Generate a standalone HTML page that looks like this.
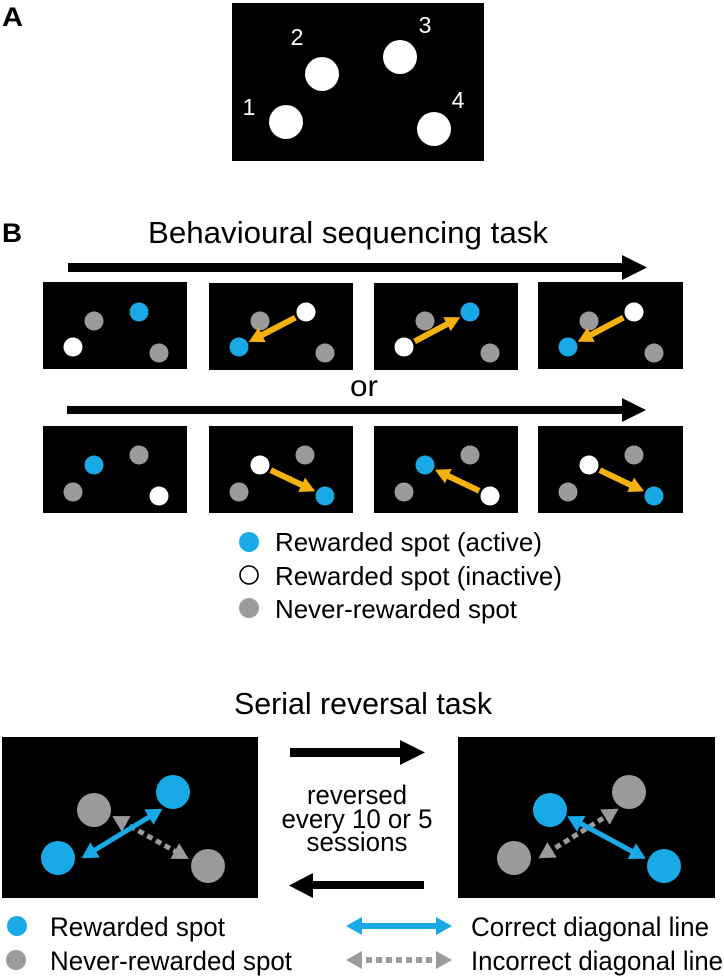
<!DOCTYPE html>
<html><head><meta charset="utf-8"><style>
html,body{margin:0;padding:0;background:#fff;}
svg{display:block;}
text{font-family:"Liberation Sans",Arial,sans-serif;}
</style></head><body>
<svg width="724" height="977" viewBox="0 0 724 977" xmlns="http://www.w3.org/2000/svg">
<defs>
<marker id="oh" markerUnits="userSpaceOnUse" markerWidth="16" markerHeight="16" refX="5" refY="8" orient="auto"><path d="M0,0 L15,8 L0,16 z" fill="#f5b20f"/></marker>
<marker id="bh" markerUnits="userSpaceOnUse" markerWidth="18" markerHeight="18" refX="6" refY="9" orient="auto-start-reverse"><path d="M0,0 L16,9 L0,18 z" fill="#19a9e6"/></marker>
<marker id="gh" markerUnits="userSpaceOnUse" markerWidth="18" markerHeight="18" refX="6" refY="9" orient="auto-start-reverse"><path d="M0,0 L16,9 L0,18 z" fill="#9b9b9b"/></marker>
</defs>

<!-- Panel A -->
<text x="2" y="26" font-size="27" font-weight="bold" textLength="21" lengthAdjust="spacingAndGlyphs">A</text>
<rect x="232" y="3" width="252" height="158" fill="#000"/>
<circle cx="286" cy="122" r="17" fill="#fff"/>
<circle cx="322" cy="74" r="17" fill="#fff"/>
<circle cx="400" cy="57" r="17" fill="#fff"/>
<circle cx="434" cy="129" r="17" fill="#fff"/>
<g fill="#fff" font-size="23" text-anchor="middle">
<text x="249" y="115">1</text><text x="297" y="45">2</text><text x="425" y="33">3</text><text x="458" y="108">4</text>
</g>

<!-- Panel B -->
<text x="2" y="242" font-size="27" font-weight="bold" textLength="20" lengthAdjust="spacingAndGlyphs">B</text>
<text x="148" y="243" font-size="31" textLength="400" lengthAdjust="spacingAndGlyphs">Behavioural sequencing task</text>
<polygon points="68,263 622,263 622,255 647,267.5 622,280 622,272 68,272" fill="#000"/>

<g fill="#000">
<rect x="43" y="282" width="144" height="87"/><rect x="209" y="283" width="144" height="87"/><rect x="374" y="283" width="144" height="87"/><rect x="538" y="282" width="145" height="87"/>
</g>
<circle cx="94" cy="321" r="9.5" fill="#9b9b9b"/><circle cx="139" cy="312" r="9.5" fill="#19a9e6"/><circle cx="73" cy="347" r="9.5" fill="#fff"/><circle cx="159" cy="353" r="9.5" fill="#9b9b9b"/>
<circle cx="260" cy="321" r="9.5" fill="#9b9b9b"/><circle cx="306" cy="312" r="9.5" fill="#fff"/><circle cx="239" cy="347" r="9.5" fill="#19a9e6"/><circle cx="325" cy="353" r="9.5" fill="#9b9b9b"/>
<line x1="295.4" y1="317.6" x2="257.6" y2="337.3" stroke="#f5b20f" stroke-width="6" marker-end="url(#oh)"/>
<circle cx="425" cy="321" r="9.5" fill="#9b9b9b"/><circle cx="470" cy="312" r="9.5" fill="#19a9e6"/><circle cx="404" cy="347" r="9.5" fill="#fff"/><circle cx="490" cy="353" r="9.5" fill="#9b9b9b"/>
<line x1="414.6" y1="341.4" x2="451.4" y2="321.9" stroke="#f5b20f" stroke-width="6" marker-end="url(#oh)"/>
<circle cx="589" cy="321" r="9.5" fill="#9b9b9b"/><circle cx="634" cy="312" r="9.5" fill="#fff"/><circle cx="568" cy="347" r="9.5" fill="#19a9e6"/><circle cx="654" cy="353" r="9.5" fill="#9b9b9b"/>
<line x1="623.4" y1="317.6" x2="586.6" y2="337.1" stroke="#f5b20f" stroke-width="6" marker-end="url(#oh)"/>

<text x="364" y="396" font-size="30" text-anchor="middle" textLength="28" lengthAdjust="spacingAndGlyphs">or</text>
<polygon points="67,406 622,406 622,398 646,410 622,422 622,414 67,414" fill="#000"/>

<g fill="#000">
<rect x="43" y="426" width="144" height="87"/><rect x="209" y="426" width="144" height="87"/><rect x="374" y="426" width="144" height="87"/><rect x="538" y="426" width="145" height="87"/>
</g>
<circle cx="94" cy="465" r="9.5" fill="#19a9e6"/><circle cx="139" cy="455" r="9.5" fill="#9b9b9b"/><circle cx="73" cy="492" r="9.5" fill="#9b9b9b"/><circle cx="159" cy="496" r="9.5" fill="#fff"/>
<circle cx="260" cy="465" r="9.5" fill="#fff"/><circle cx="305" cy="455" r="9.5" fill="#9b9b9b"/><circle cx="239" cy="492" r="9.5" fill="#9b9b9b"/><circle cx="325" cy="496" r="9.5" fill="#19a9e6"/>
<line x1="270.8" y1="470.2" x2="306.1" y2="487" stroke="#f5b20f" stroke-width="6" marker-end="url(#oh)"/>
<circle cx="425" cy="465" r="9.5" fill="#19a9e6"/><circle cx="470" cy="455" r="9.5" fill="#9b9b9b"/><circle cx="404" cy="492" r="9.5" fill="#9b9b9b"/><circle cx="490" cy="496" r="9.5" fill="#fff"/>
<line x1="479.2" y1="490.8" x2="443.9" y2="474" stroke="#f5b20f" stroke-width="6" marker-end="url(#oh)"/>
<circle cx="589" cy="465" r="9.5" fill="#fff"/><circle cx="634" cy="455" r="9.5" fill="#9b9b9b"/><circle cx="568" cy="492" r="9.5" fill="#9b9b9b"/><circle cx="654" cy="496" r="9.5" fill="#19a9e6"/>
<line x1="599.8" y1="470.2" x2="635.1" y2="487" stroke="#f5b20f" stroke-width="6" marker-end="url(#oh)"/>

<!-- legend B -->
<circle cx="249" cy="542" r="10" fill="#19a9e6"/>
<circle cx="249" cy="575" r="9" fill="#fff" stroke="#000" stroke-width="1.6"/>
<circle cx="249" cy="608" r="10" fill="#9b9b9b"/>
<g font-size="26">
<text x="275" y="551" textLength="267" lengthAdjust="spacingAndGlyphs">Rewarded spot (active)</text>
<text x="275" y="585" textLength="287" lengthAdjust="spacingAndGlyphs">Rewarded spot (inactive)</text>
<text x="275" y="618" textLength="242" lengthAdjust="spacingAndGlyphs">Never-rewarded spot</text>
</g>

<!-- Serial reversal -->
<text x="234" y="714" font-size="31" textLength="258" lengthAdjust="spacingAndGlyphs">Serial reversal task</text>
<rect x="2" y="737" width="256" height="161" fill="#000"/>
<rect x="458" y="737" width="257" height="161" fill="#000"/>
<polygon points="290,748 400,748 400,740 425,752.5 400,765 400,757 290,757" fill="#000"/>
<polygon points="424,881 313,881 313,873 289,885.5 313,898 313,889 424,889" fill="#000"/>
<g font-size="27" text-anchor="middle">
<text x="357" y="804" textLength="100" lengthAdjust="spacingAndGlyphs">reversed</text>
<text x="357" y="828" textLength="151" lengthAdjust="spacingAndGlyphs">every 10 or 5</text>
<text x="357" y="851" textLength="101" lengthAdjust="spacingAndGlyphs">sessions</text>
</g>
<circle cx="94" cy="810" r="17" fill="#9b9b9b"/><circle cx="173" cy="792" r="17" fill="#19a9e6"/><circle cx="58" cy="858" r="17" fill="#19a9e6"/><circle cx="208" cy="866" r="17" fill="#9b9b9b"/>
<line x1="121" y1="821" x2="180" y2="854" stroke="#9b9b9b" stroke-width="5" stroke-dasharray="6,4" marker-start="url(#gh)" marker-end="url(#gh)"/>
<line x1="90" y1="853" x2="154" y2="814" stroke="#19a9e6" stroke-width="5" marker-start="url(#bh)" marker-end="url(#bh)"/>
<circle cx="550" cy="810" r="17" fill="#19a9e6"/><circle cx="629" cy="792" r="17" fill="#9b9b9b"/><circle cx="514" cy="858" r="17" fill="#9b9b9b"/><circle cx="664" cy="866" r="17" fill="#19a9e6"/>
<line x1="547" y1="853" x2="610" y2="814" stroke="#9b9b9b" stroke-width="5" stroke-dasharray="6,4" marker-start="url(#gh)" marker-end="url(#gh)"/>
<line x1="576" y1="821" x2="637" y2="854" stroke="#19a9e6" stroke-width="5" marker-start="url(#bh)" marker-end="url(#bh)"/>

<circle cx="17" cy="926" r="10" fill="#19a9e6"/>
<circle cx="16" cy="960" r="10" fill="#9b9b9b"/>
<line x1="356" y1="926" x2="442" y2="926" stroke="#19a9e6" stroke-width="6" marker-start="url(#bh)" marker-end="url(#bh)"/>
<line x1="356" y1="960" x2="442" y2="960" stroke="#9b9b9b" stroke-width="6" stroke-dasharray="6,4" marker-start="url(#gh)" marker-end="url(#gh)"/>
<g font-size="27">
<text x="50" y="936" textLength="175" lengthAdjust="spacingAndGlyphs">Rewarded spot</text>
<text x="50" y="970" textLength="242" lengthAdjust="spacingAndGlyphs">Never-rewarded spot</text>
<text x="471" y="936" textLength="238" lengthAdjust="spacingAndGlyphs">Correct diagonal line</text>
<text x="471" y="970" textLength="252" lengthAdjust="spacingAndGlyphs">Incorrect diagonal line</text>
</g>
</svg>
</body></html>
